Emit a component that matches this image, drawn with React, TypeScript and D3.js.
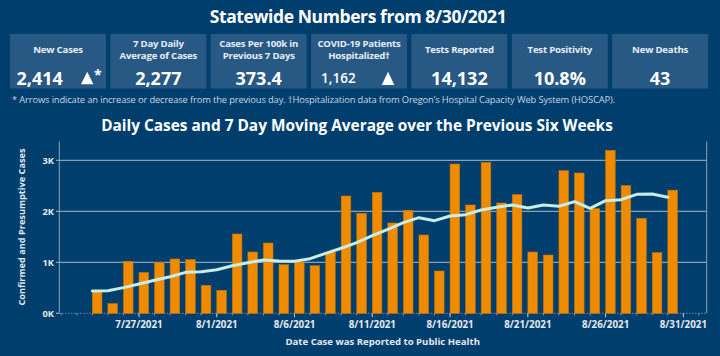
import React from "react";
import * as d3 from "d3";

const dates = [
  "2021-07-24","2021-07-25","2021-07-26","2021-07-27","2021-07-28","2021-07-29","2021-07-30","2021-07-31",
  "2021-08-01","2021-08-02","2021-08-03","2021-08-04","2021-08-05","2021-08-06","2021-08-07","2021-08-08",
  "2021-08-09","2021-08-10","2021-08-11","2021-08-12","2021-08-13","2021-08-14","2021-08-15","2021-08-16",
  "2021-08-17","2021-08-18","2021-08-19","2021-08-20","2021-08-21","2021-08-22","2021-08-23","2021-08-24",
  "2021-08-25","2021-08-26","2021-08-27","2021-08-28","2021-08-29","2021-08-30",
];
const dailyCases = [
  430, 190, 1020, 800, 1000, 1065, 1052, 549,
  451, 1555, 1202, 1378, 953, 1006, 933, 1202,
  2300, 1961, 2372, 1771, 2020, 1535, 829, 2927,
  2124, 2960, 2163, 2326, 1202, 1143, 2797, 2751,
  2051, 3196, 2503, 1863, 1189, 2414,
];
const movingAvg = [
  437, 444, 503, 575, 647, 718, 803, 816,
  855, 933, 992, 1045, 1025, 1019, 1071, 1176,
  1275, 1385, 1522, 1647, 1777, 1875, 1816, 1908,
  1934, 2026, 2078, 2124, 2065, 2124, 2098, 2189,
  2059, 2209, 2228, 2333, 2340, 2277,
];
const xTickDates = ["2021-07-27","2021-08-01","2021-08-06","2021-08-11","2021-08-16","2021-08-21","2021-08-26","2021-08-31"];
const yTicks = [0, 1000, 2000, 3000];

const tileLabels = [
  ["New Cases"],
  ["7 Day Daily", "Average of Cases"],
  ["Cases Per 100k in", "Previous 7 Days"],
  ["COVID-19 Patients", "Hospitalized\u2020"],
  ["Tests Reported"],
  ["Test Positivity"],
  ["New Deaths"],
];
const tileValues = ["2,414", "2,277", "373.4", "1,162", "14,132", "10.8%", "43"];
const tileArrows = ["up", "", "", "up", "", "", ""];

const W = 720, H = 356;
const BG = "#003f6d";
const TILE = "#285985";
const FONT = "'Open Sans', 'Noto Sans', sans-serif";

const parse = d3.timeParse("%Y-%m-%d");
const fmt = d3.timeFormat("%-m/%-d/%Y");

export default function App() {
  const x = d3.scaleTime()
    .domain([new Date(2021, 6, 21, 21), new Date(2021, 8, 1, 12)])
    .range([59.3, 706.7]);
  const y = d3.scaleLinear().domain([0, 3000]).range([313.3, 160.3]);
  const plotTop = 141.5;
  const barW = 9.6;

  const pts = dates.map((d, i) => ({ d: parse(d)!, v: dailyCases[i], a: movingAvg[i] }));
  const line = d3.line<{ d: Date; a: number }>()
    .x((p) => x(p.d))
    .y((p) => y(p.a))
    .curve(d3.curveLinear);

  const days = d3.timeDay.range(new Date(2021, 6, 22), new Date(2021, 8, 2));

  const tileX0 = 10, tileStep = 100.35, tileW = 96, tileY = 34, tileH = 54.5;

  return (
    <svg width={W} height={H} style={{ position: "absolute", left: 0, top: 0, fontFamily: FONT }}>
      <rect x={0} y={0} width={W} height={H} fill={BG} />
      <text x={358} y={23} textAnchor="middle" fill="#ffffff" fontSize={17.5} fontWeight={700} letterSpacing={-0.4}>
        Statewide Numbers from 8/30/2021
      </text>

      {tileLabels.map((lines, i) => {
        const tx = tileX0 + i * tileStep;
        const cx = tx + tileW / 2;
        const small = i === 3;
        return (
          <g key={i}>
            <rect x={tx} y={tileY} width={tileW} height={tileH} fill={TILE} />
            {lines.map((ln, j) => (
              <text key={j} x={cx} y={lines.length === 1 ? 53 : 46.5 + j * 12.5}
                textAnchor="middle" fill="#e8eef4" fontSize={9.6} fontWeight={700} letterSpacing={-0.2}>
                {ln}
              </text>
            ))}
            {tileArrows[i] ? (
              <g>
                <text x={tx + (small ? 10 : 6.5)} y={small ? 82.5 : 84.5} fill="#ffffff"
                  fontSize={small ? 13.5 : 18} fontWeight={small ? 600 : 700}>
                  {tileValues[i]}
                </text>
                <path d={`M${tx + (small ? 70.7 : 71)},${small ? 85 : 84.3} L${tx + (small ? 77 : 77.2)},${71.7} L${tx + (small ? 83.3 : 83.4)},${small ? 85 : 84.3} Z`} fill="#ffffff" />
                {i === 0 ? (
                  <text x={tx + 84} y={80} fill="#ffffff" fontSize={14} fontWeight={700}>*</text>
                ) : null}
              </g>
            ) : (
              <text x={cx} y={84.5} textAnchor="middle" fill="#ffffff" fontSize={18} fontWeight={700}>
                {tileValues[i]}
              </text>
            )}
          </g>
        );
      })}

      <text x={12} y={103} fill="#c9d5e2" fontSize={9.4} letterSpacing={-0.15}>
        * Arrows indicate an increase or decrease from the previous day. {"\u2020"}Hospitalization data from Oregon{"\u2019"}s Hospital Capacity Web System (HOSCAP).
      </text>

      <text x={357} y={131} textAnchor="middle" fill="#ffffff" fontSize={15.4} fontWeight={700}>
        Daily Cases and 7 Day Moving Average over the Previous Six Weeks
      </text>

      {/* gridlines */}
      {yTicks.filter((t) => t > 0).map((t) => (
        <line key={t} x1={59.3} x2={706.7} y1={y(t)} y2={y(t)} stroke="#a9b9c9" strokeWidth={1} />
      ))}
      {/* axes frame */}
      <line x1={59.3} x2={59.3} y1={plotTop} y2={y(0)} stroke="#8ea3b8" strokeWidth={1} />
      <line x1={706.7} x2={706.7} y1={plotTop} y2={y(0)} stroke="#8ea3b8" strokeWidth={1} />
      <line x1={56} x2={706.7} y1={y(0)} y2={y(0)} stroke="#6f89a3" strokeWidth={1} strokeDasharray="1.5,1.5" />
      {days.map((d, i) => (
        <line key={i} x1={x(d)} x2={x(d)} y1={y(0)} y2={y(0) + 2} stroke="#8ea3b8" strokeWidth={1} />
      ))}
      {xTickDates.map((s) => {
        const d = parse(s)!;
        return (
          <g key={s}>
            <line x1={x(d)} x2={x(d)} y1={y(0)} y2={y(0) + 4} stroke="#b9c7d5" strokeWidth={1} />
            <text x={x(d)} y={327.5} textAnchor="middle" fill="#e3e9f0" fontSize={9.8} fontWeight={700}>
              {fmt(d)}
            </text>
          </g>
        );
      })}
      {yTicks.map((t) => (
        <g key={t}>
          <line x1={56} x2={59.3} y1={y(t)} y2={y(t)} stroke="#a9b9c9" strokeWidth={1} />
          <text x={54} y={y(t) + 3.3} textAnchor="end" fill="#e3e9f0" fontSize={9.3} fontWeight={700}>
            {d3.format("d")(t / 1000)}K
          </text>
        </g>
      ))}

      {/* bars */}
      {pts.map((p, i) => (
        <rect key={i} x={x(p.d)} y={y(p.v)} width={barW} height={y(0) - y(p.v)}
          fill="#ef8b00" stroke="#c87400" strokeWidth={0.6} />
      ))}

      {/* moving average */}
      <path d={line(pts) || ""} fill="none" stroke="#c8ece6" strokeWidth={3} strokeLinejoin="round" strokeLinecap="round" />

      <text transform={`translate(24.5,227) rotate(-90)`} textAnchor="middle" fill="#e3e9f0" fontSize={9.2} fontWeight={700}>
        Confirmed and Presumptive Cases
      </text>
      <text x={382.7} y={345} textAnchor="middle" fill="#e3e9f0" fontSize={9.6} fontWeight={700}>
        Date Case was Reported to Public Health
      </text>
    </svg>
  );
}
